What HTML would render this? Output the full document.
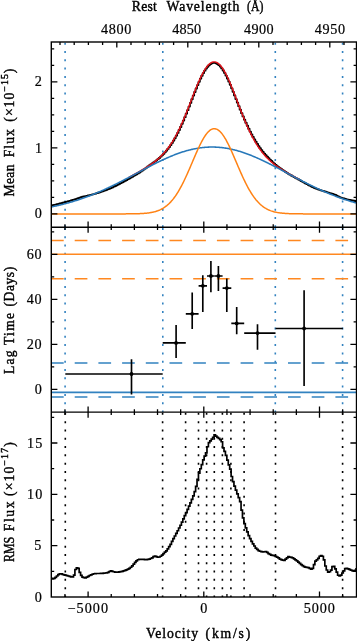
<!DOCTYPE html>
<html><head><meta charset="utf-8"><style>
html,body{margin:0;padding:0;background:#fff;width:357px;height:641px;overflow:hidden}
svg{display:block}
</style></head><body>
<svg width="357" height="641" viewBox="0 0 357 641">
<rect x="0" y="0" width="357" height="641" fill="#fff"/>
<defs><clipPath id="c1"><rect x="51.3" y="42.0" width="305.2" height="185.2"/></clipPath><clipPath id="c2"><rect x="51.3" y="227.2" width="305.2" height="184.95"/></clipPath><clipPath id="c3"><rect x="51.3" y="412.15" width="305.2" height="184.85000000000002"/></clipPath></defs>
<line x1="65.1" y1="42.7" x2="65.1" y2="227.2" stroke="#3282c0" stroke-width="1.6" stroke-dasharray="2 6.3"/>
<line x1="65.1" y1="227.89999999999998" x2="65.1" y2="412.15" stroke="#3282c0" stroke-width="1.6" stroke-dasharray="2 6.3"/>
<line x1="162.8" y1="42.7" x2="162.8" y2="227.2" stroke="#3282c0" stroke-width="1.6" stroke-dasharray="2 6.3"/>
<line x1="162.8" y1="227.89999999999998" x2="162.8" y2="412.15" stroke="#3282c0" stroke-width="1.6" stroke-dasharray="2 6.3"/>
<line x1="275.3" y1="42.7" x2="275.3" y2="227.2" stroke="#3282c0" stroke-width="1.6" stroke-dasharray="2 6.3"/>
<line x1="275.3" y1="227.89999999999998" x2="275.3" y2="412.15" stroke="#3282c0" stroke-width="1.6" stroke-dasharray="2 6.3"/>
<line x1="342.6" y1="42.7" x2="342.6" y2="227.2" stroke="#3282c0" stroke-width="1.6" stroke-dasharray="2 6.3"/>
<line x1="342.6" y1="227.89999999999998" x2="342.6" y2="412.15" stroke="#3282c0" stroke-width="1.6" stroke-dasharray="2 6.3"/>
<line x1="65.3" y1="412.84999999999997" x2="65.3" y2="597.0" stroke="#000" stroke-width="1.6" stroke-dasharray="2 6.3"/>
<line x1="162.6" y1="412.84999999999997" x2="162.6" y2="597.0" stroke="#000" stroke-width="1.6" stroke-dasharray="2 6.3"/>
<line x1="185.6" y1="412.84999999999997" x2="185.6" y2="597.0" stroke="#000" stroke-width="1.6" stroke-dasharray="2 6.3"/>
<line x1="198.5" y1="412.84999999999997" x2="198.5" y2="597.0" stroke="#000" stroke-width="1.6" stroke-dasharray="2 6.3"/>
<line x1="206.6" y1="412.84999999999997" x2="206.6" y2="597.0" stroke="#000" stroke-width="1.6" stroke-dasharray="2 6.3"/>
<line x1="214.3" y1="412.84999999999997" x2="214.3" y2="597.0" stroke="#000" stroke-width="1.6" stroke-dasharray="2 6.3"/>
<line x1="222.4" y1="412.84999999999997" x2="222.4" y2="597.0" stroke="#000" stroke-width="1.6" stroke-dasharray="2 6.3"/>
<line x1="230.9" y1="412.84999999999997" x2="230.9" y2="597.0" stroke="#000" stroke-width="1.6" stroke-dasharray="2 6.3"/>
<line x1="244.1" y1="412.84999999999997" x2="244.1" y2="597.0" stroke="#000" stroke-width="1.6" stroke-dasharray="2 6.3"/>
<line x1="275.5" y1="412.84999999999997" x2="275.5" y2="597.0" stroke="#000" stroke-width="1.6" stroke-dasharray="2 6.3"/>
<line x1="342.6" y1="412.84999999999997" x2="342.6" y2="597.0" stroke="#000" stroke-width="1.6" stroke-dasharray="2 6.3"/>
<g clip-path="url(#c1)" fill="none" stroke-linejoin="round">
<path d="M30.89 208.78H32.31V208.59H33.73V208.39H35.15V208.19H36.57V207.98H37.99V207.77H39.41V207.54H40.83V207.31H42.25V207.08H43.67V206.83H45.09V206.58H46.51V206.32H47.93V206.05H49.35V205.78H50.77V205.48H52.19V205.17H53.61V204.85H55.03V204.53H56.45V204.19H57.87V203.85H59.29V203.50H60.71V203.14H62.13V202.77H63.55V202.39H64.97V202.00H66.39V201.60H67.81V201.20H69.23V200.79H70.65V200.38H72.07V199.96H73.49V199.53H74.91V199.09H76.33V198.63H77.75V198.17H79.17V197.70H80.59V197.22H82.01V196.72H83.43V196.40H84.85V196.11H86.27V195.80H87.69V195.49H89.11V195.17H90.53V194.84H91.95V194.47H93.37V194.06H94.79V193.64H96.21V193.22H97.63V192.77H99.05V192.29H100.47V191.80H101.89V191.30H103.31V190.79H104.73V190.28H106.15V189.75H107.57V189.22H108.99V188.68H110.41V188.12H111.83V187.42H113.25V186.71H114.67V186.00H116.09V185.28H117.51V184.56H118.93V183.82H120.35V183.09H121.77V182.34H123.19V181.59H124.61V180.83H126.03V180.03H127.45V179.22H128.87V178.41H130.29V177.59H131.71V176.76H133.13V175.93H134.55V175.10H135.97V174.25H137.39V173.40H138.81V172.51H140.23V171.55H141.65V170.57H143.07V169.58H144.49V168.57H145.91V167.55H147.33V166.50H148.75V165.43H150.17V164.44H151.59V163.48H153.01V162.49H154.43V161.44H155.85V160.35H157.27V159.20H158.69V157.98H160.11V156.70H161.53V155.34H162.95V153.89H164.37V152.35H165.79V150.70H167.21V148.94H168.63V147.06H170.05V145.06H171.47V142.92H172.89V140.65H174.31V138.23H175.73V135.63H177.15V132.89H178.57V130.00H179.99V126.98H181.41V123.83H182.83V120.56H184.25V117.18H185.67V113.71H187.09V110.16H188.51V106.56H189.93V102.91H191.35V99.25H192.77V95.60H194.19V92.01H195.61V88.48H197.03V85.07H198.45V81.79H199.87V78.68H201.29V75.77H202.71V73.10H204.13V70.68H205.55V68.55H206.97V66.74H208.39V65.25H209.81V64.11H211.23V63.34H212.65V62.94H214.07V62.92H215.49V63.28H216.91V64.02H218.33V65.13H219.75V66.60H221.17V68.40H222.59V70.51H224.01V72.93H225.43V75.58H226.85V78.48H228.27V81.58H229.69V84.86H231.11V88.29H232.53V91.84H233.95V95.47H235.37V99.04H236.79V102.60H238.21V106.16H239.63V109.69H241.05V113.17H242.47V116.47H243.89V119.67H245.31V122.76H246.73V125.77H248.15V128.75H249.57V131.60H250.99V134.31H252.41V136.88H253.83V139.30H255.25V141.69H256.67V143.99H258.09V146.16H259.51V148.19H260.93V150.11H262.35V151.91H263.77V153.59H265.19V155.18H266.61V156.68H268.03V158.15H269.45V159.62H270.87V161.02H272.29V162.35H273.71V163.63H275.13V164.85H276.55V166.04H277.97V167.14H279.39V168.16H280.81V169.16H282.23V170.13H283.65V171.08H285.07V172.01H286.49V172.92H287.91V173.82H289.33V174.70H290.75V175.52H292.17V176.33H293.59V177.12H295.01V177.91H296.43V178.69H297.85V179.47H299.27V180.23H300.69V181.03H302.11V181.83H303.53V182.62H304.95V183.40H306.37V184.17H307.79V184.94H309.21V185.69H310.63V186.45H312.05V187.19H313.47V187.78H314.89V188.33H316.31V188.88H317.73V189.41H319.15V189.94H320.57V190.40H321.99V190.84H323.41V191.27H324.83V191.70H326.25V192.14H327.67V192.60H329.09V193.04H330.51V193.47H331.93V193.89H333.35V194.31H334.77V194.85H336.19V195.64H337.61V196.42H339.03V197.19H340.45V197.68H341.87V198.10H343.29V198.52H344.71V198.92H346.13V199.31H347.55V199.68H348.97V199.97H350.39V200.24H351.81V200.51H353.23V200.77H354.65V201.01H356.07V201.25H357.49V201.61H358.91V201.98H360.33V202.35H361.75V202.71H363.17V203.05H364.59V203.39H366.01V203.72H367.43V204.04H368.85V204.35H370.27V204.65H371.69V204.95H373.11" stroke="#000" stroke-width="1.8"/>
<path d="M128.30 177.66L129.00 177.28L129.70 176.91L130.40 176.53L131.10 176.15L131.80 175.77L132.50 175.39L133.20 175.00L133.90 174.62L134.60 174.23L135.30 173.84L136.00 173.45L136.70 173.06L137.40 172.67L138.10 172.27L138.80 171.87L139.50 171.47L140.20 171.07L140.90 170.66L141.60 170.25L142.30 169.84L143.00 169.43L143.70 169.01L144.40 168.58L145.10 168.16L145.80 167.72L146.50 167.29L147.20 166.84L147.90 166.40L148.60 165.94L149.30 165.48L150.00 165.01L150.70 164.53L151.40 164.05L152.10 163.55L152.80 163.05L153.50 162.54L154.20 162.01L154.90 161.48L155.60 160.93L156.30 160.37L157.00 159.79L157.70 159.20L158.40 158.59L159.10 157.97L159.80 157.33L160.50 156.67L161.20 155.99L161.90 155.30L162.60 154.58L163.30 153.84L164.00 153.07L164.70 152.29L165.40 151.47L166.10 150.63L166.80 149.77L167.50 148.88L168.20 147.95L168.90 147.00L169.60 146.02L170.30 145.01L171.00 143.97L171.70 142.89L172.40 141.78L173.10 140.64L173.80 139.46L174.50 138.25L175.20 137.01L175.90 135.73L176.60 134.42L177.30 133.07L178.00 131.69L178.70 130.27L179.40 128.82L180.10 127.34L180.80 125.82L181.50 124.28L182.20 122.70L182.90 121.10L183.60 119.46L184.30 117.80L185.00 116.12L185.70 114.41L186.40 112.69L187.10 110.94L187.80 109.18L188.50 107.40L189.20 105.61L189.90 103.82L190.60 102.01L191.30 100.21L192.00 98.40L192.70 96.60L193.40 94.81L194.10 93.03L194.80 91.26L195.50 89.51L196.20 87.78L196.90 86.07L197.60 84.40L198.30 82.75L199.00 81.15L199.70 79.58L200.40 78.06L201.10 76.59L201.80 75.17L202.50 73.80L203.20 72.50L203.90 71.25L204.60 70.07L205.30 68.96L206.00 67.92L206.70 66.96L207.40 66.07L208.10 65.26L208.80 64.54L209.50 63.90L210.20 63.34L210.90 62.87L211.60 62.49L212.30 62.20L213.00 62.01L213.70 61.90L214.40 61.89L215.10 61.96L215.80 62.13L216.50 62.39L217.20 62.74L217.90 63.19L218.60 63.72L219.30 64.33L220.00 65.03L220.70 65.82L221.40 66.69L222.10 67.63L222.80 68.65L223.50 69.75L224.20 70.92L224.90 72.15L225.60 73.45L226.30 74.81L227.00 76.23L227.70 77.70L228.40 79.22L229.10 80.79L229.80 82.40L230.50 84.05L231.20 85.74L231.90 87.46L232.60 89.20L233.30 90.97L234.00 92.76L234.70 94.57L235.40 96.39L236.10 98.22L236.80 100.05L237.50 101.89L238.20 103.72L238.90 105.56L239.60 107.38L240.30 109.20L241.00 111.00L241.70 112.79L242.40 114.56L243.10 116.31L243.80 118.04L244.50 119.75L245.20 121.43L245.90 123.08L246.60 124.70L247.30 126.30L248.00 127.86L248.70 129.39L249.40 130.89L250.10 132.36L250.80 133.79L251.50 135.19L252.20 136.55L252.90 137.88L253.60 139.17L254.30 140.43L255.00 141.65L255.70 142.84L256.40 143.99L257.10 145.11L257.80 146.20L258.50 147.26L259.20 148.28L259.90 149.27L260.60 150.23L261.30 151.16L262.00 152.07L262.70 152.94L263.40 153.79L264.10 154.61L264.80 155.41L265.50 156.18L266.20 156.93L266.90 157.66L267.60 158.37L268.30 159.05L269.00 159.72L269.70 160.37L270.40 161.00L271.10 161.61L271.80 162.21L272.50 162.79L273.20 163.36L273.90 163.91L274.60 164.46L275.30 164.99L276.00 165.51L276.70 166.02L277.40 166.52L278.10 167.01L278.80 167.49L279.50 167.96L280.20 168.43L280.90 168.88L281.60 169.34L282.30 169.78L283.00 170.22L283.70 170.66L284.40 171.09L285.10 171.51L285.80 171.93L286.50 172.35L287.20 172.76L287.90 173.17L288.60 173.58L289.30 173.98L290.00 174.38L290.70 174.78L291.40 175.17L292.10 175.56L292.80 175.95L293.50 176.34L294.20 176.72L294.90 177.11L295.60 177.49L296.30 177.87L297.00 178.25L297.70 178.62L298.40 179.00L299.10 179.37L299.80 179.74" stroke="#e4131b" stroke-width="1.45"/>
<path d="M51.30 206.93L52.00 206.79L52.70 206.64L53.40 206.50L54.10 206.35L54.80 206.20L55.50 206.04L56.20 205.89L56.90 205.73L57.60 205.57L58.30 205.41L59.00 205.25L59.70 205.08L60.40 204.91L61.10 204.74L61.80 204.57L62.50 204.40L63.20 204.22L63.90 204.04L64.60 203.86L65.30 203.67L66.00 203.49L66.70 203.30L67.40 203.11L68.10 202.91L68.80 202.72L69.50 202.52L70.20 202.32L70.90 202.12L71.60 201.91L72.30 201.70L73.00 201.49L73.70 201.28L74.40 201.07L75.10 200.85L75.80 200.63L76.50 200.41L77.20 200.18L77.90 199.95L78.60 199.72L79.30 199.49L80.00 199.26L80.70 199.02L81.40 198.78L82.10 198.54L82.80 198.30L83.50 198.05L84.20 197.80L84.90 197.55L85.60 197.29L86.30 197.04L87.00 196.78L87.70 196.51L88.40 196.25L89.10 195.98L89.80 195.71L90.50 195.44L91.20 195.17L91.90 194.89L92.60 194.61L93.30 194.33L94.00 194.05L94.70 193.76L95.40 193.48L96.10 193.18L96.80 192.89L97.50 192.60L98.20 192.30L98.90 192.00L99.60 191.70L100.30 191.39L101.00 191.09L101.70 190.78L102.40 190.47L103.10 190.15L103.80 189.84L104.50 189.52L105.20 189.20L105.90 188.88L106.60 188.56L107.30 188.23L108.00 187.90L108.70 187.57L109.40 187.24L110.10 186.91L110.80 186.57L111.50 186.24L112.20 185.90L112.90 185.56L113.60 185.21L114.30 184.87L115.00 184.52L115.70 184.18L116.40 183.83L117.10 183.48L117.80 183.13L118.50 182.77L119.20 182.42L119.90 182.06L120.60 181.70L121.30 181.35L122.00 180.99L122.70 180.62L123.40 180.26L124.10 179.90L124.80 179.53L125.50 179.17L126.20 178.80L126.90 178.43L127.60 178.07L128.30 177.70L129.00 177.33L129.70 176.96L130.40 176.59L131.10 176.22L131.80 175.84L132.50 175.47L133.20 175.10L133.90 174.72L134.60 174.35L135.30 173.98L136.00 173.60L136.70 173.23L137.40 172.86L138.10 172.48L138.80 172.11L139.50 171.74L140.20 171.36L140.90 170.99L141.60 170.62L142.30 170.24L143.00 169.87L143.70 169.50L144.40 169.13L145.10 168.76L145.80 168.39L146.50 168.02L147.20 167.66L147.90 167.29L148.60 166.93L149.30 166.56L150.00 166.20L150.70 165.84L151.40 165.48L152.10 165.12L152.80 164.76L153.50 164.41L154.20 164.05L154.90 163.70L155.60 163.35L156.30 163.00L157.00 162.66L157.70 162.31L158.40 161.97L159.10 161.63L159.80 161.29L160.50 160.96L161.20 160.62L161.90 160.29L162.60 159.96L163.30 159.64L164.00 159.32L164.70 158.99L165.40 158.68L166.10 158.36L166.80 158.05L167.50 157.74L168.20 157.44L168.90 157.14L169.60 156.84L170.30 156.54L171.00 156.25L171.70 155.96L172.40 155.67L173.10 155.39L173.80 155.12L174.50 154.84L175.20 154.57L175.90 154.30L176.60 154.04L177.30 153.78L178.00 153.53L178.70 153.28L179.40 153.03L180.10 152.79L180.80 152.55L181.50 152.32L182.20 152.09L182.90 151.86L183.60 151.64L184.30 151.43L185.00 151.22L185.70 151.01L186.40 150.81L187.10 150.61L187.80 150.42L188.50 150.23L189.20 150.05L189.90 149.88L190.60 149.70L191.30 149.54L192.00 149.38L192.70 149.22L193.40 149.07L194.10 148.92L194.80 148.78L195.50 148.64L196.20 148.51L196.90 148.39L197.60 148.27L198.30 148.16L199.00 148.05L199.70 147.94L200.40 147.85L201.10 147.75L201.80 147.67L202.50 147.59L203.20 147.51L203.90 147.44L204.60 147.38L205.30 147.32L206.00 147.27L206.70 147.22L207.40 147.18L208.10 147.14L208.80 147.11L209.50 147.09L210.20 147.07L210.90 147.06L211.60 147.05L212.30 147.05L213.00 147.06L213.70 147.07L214.40 147.08L215.10 147.11L215.80 147.13L216.50 147.17L217.20 147.21L217.90 147.25L218.60 147.30L219.30 147.36L220.00 147.42L220.70 147.49L221.40 147.56L222.10 147.64L222.80 147.73L223.50 147.82L224.20 147.91L224.90 148.01L225.60 148.12L226.30 148.23L227.00 148.35L227.70 148.47L228.40 148.60L229.10 148.74L229.80 148.88L230.50 149.02L231.20 149.17L231.90 149.33L232.60 149.49L233.30 149.65L234.00 149.82L234.70 150.00L235.40 150.18L236.10 150.36L236.80 150.55L237.50 150.75L238.20 150.95L238.90 151.15L239.60 151.36L240.30 151.58L241.00 151.79L241.70 152.02L242.40 152.25L243.10 152.48L243.80 152.71L244.50 152.95L245.20 153.20L245.90 153.45L246.60 153.70L247.30 153.96L248.00 154.22L248.70 154.49L249.40 154.76L250.10 155.03L250.80 155.31L251.50 155.59L252.20 155.87L252.90 156.16L253.60 156.45L254.30 156.74L255.00 157.04L255.70 157.34L256.40 157.65L257.10 157.95L257.80 158.26L258.50 158.58L259.20 158.89L259.90 159.21L260.60 159.54L261.30 159.86L262.00 160.19L262.70 160.52L263.40 160.85L264.10 161.19L264.80 161.52L265.50 161.86L266.20 162.20L266.90 162.55L267.60 162.89L268.30 163.24L269.00 163.59L269.70 163.94L270.40 164.30L271.10 164.65L271.80 165.01L272.50 165.37L273.20 165.73L273.90 166.09L274.60 166.45L275.30 166.81L276.00 167.18L276.70 167.54L277.40 167.91L278.10 168.28L278.80 168.65L279.50 169.02L280.20 169.39L280.90 169.76L281.60 170.13L282.30 170.50L283.00 170.87L283.70 171.24L284.40 171.62L285.10 171.99L285.80 172.36L286.50 172.74L287.20 173.11L287.90 173.49L288.60 173.86L289.30 174.23L290.00 174.61L290.70 174.98L291.40 175.35L292.10 175.73L292.80 176.10L293.50 176.47L294.20 176.84L294.90 177.21L295.60 177.58L296.30 177.95L297.00 178.32L297.70 178.69L298.40 179.05L299.10 179.42L299.80 179.78L300.50 180.15L301.20 180.51L301.90 180.87L302.60 181.23L303.30 181.59L304.00 181.95L304.70 182.31L305.40 182.66L306.10 183.02L306.80 183.37L307.50 183.72L308.20 184.07L308.90 184.42L309.60 184.76L310.30 185.11L311.00 185.45L311.70 185.79L312.40 186.13L313.10 186.47L313.80 186.80L314.50 187.14L315.20 187.47L315.90 187.80L316.60 188.13L317.30 188.45L318.00 188.78L318.70 189.10L319.40 189.42L320.10 189.74L320.80 190.05L321.50 190.37L322.20 190.68L322.90 190.99L323.60 191.30L324.30 191.60L325.00 191.90L325.70 192.21L326.40 192.50L327.10 192.80L327.80 193.09L328.50 193.38L329.20 193.67L329.90 193.96L330.60 194.24L331.30 194.53L332.00 194.81L332.70 195.08L333.40 195.36L334.10 195.63L334.80 195.90L335.50 196.17L336.20 196.43L336.90 196.69L337.60 196.95L338.30 197.21L339.00 197.47L339.70 197.72L340.40 197.97L341.10 198.22L341.80 198.46L342.50 198.71L343.20 198.95L343.90 199.18L344.60 199.42L345.30 199.65L346.00 199.88L346.70 200.11L347.40 200.34L348.10 200.56L348.80 200.78L349.50 201.00L350.20 201.21L350.90 201.43L351.60 201.64L352.30 201.85L353.00 202.05L353.70 202.26L354.40 202.46L355.10 202.66L355.80 202.85L356.50 203.05" stroke="#2778b9" stroke-width="1.55"/>
<path d="M51.30 213.90L52.00 213.90L52.70 213.90L53.40 213.90L54.10 213.90L54.80 213.90L55.50 213.90L56.20 213.90L56.90 213.90L57.60 213.90L58.30 213.90L59.00 213.90L59.70 213.90L60.40 213.90L61.10 213.90L61.80 213.90L62.50 213.90L63.20 213.90L63.90 213.90L64.60 213.90L65.30 213.90L66.00 213.90L66.70 213.90L67.40 213.90L68.10 213.90L68.80 213.90L69.50 213.90L70.20 213.90L70.90 213.90L71.60 213.90L72.30 213.90L73.00 213.90L73.70 213.90L74.40 213.90L75.10 213.90L75.80 213.90L76.50 213.90L77.20 213.90L77.90 213.90L78.60 213.90L79.30 213.90L80.00 213.90L80.70 213.90L81.40 213.90L82.10 213.90L82.80 213.90L83.50 213.90L84.20 213.90L84.90 213.90L85.60 213.90L86.30 213.90L87.00 213.90L87.70 213.90L88.40 213.90L89.10 213.90L89.80 213.90L90.50 213.90L91.20 213.90L91.90 213.90L92.60 213.90L93.30 213.90L94.00 213.90L94.70 213.90L95.40 213.90L96.10 213.90L96.80 213.90L97.50 213.90L98.20 213.90L98.90 213.90L99.60 213.90L100.30 213.90L101.00 213.90L101.70 213.90L102.40 213.90L103.10 213.90L103.80 213.90L104.50 213.90L105.20 213.90L105.90 213.90L106.60 213.90L107.30 213.90L108.00 213.90L108.70 213.90L109.40 213.90L110.10 213.90L110.80 213.90L111.50 213.90L112.20 213.90L112.90 213.90L113.60 213.90L114.30 213.90L115.00 213.90L115.70 213.90L116.40 213.90L117.10 213.90L117.80 213.89L118.50 213.89L119.20 213.89L119.90 213.89L120.60 213.89L121.30 213.89L122.00 213.89L122.70 213.89L123.40 213.88L124.10 213.88L124.80 213.88L125.50 213.88L126.20 213.87L126.90 213.87L127.60 213.86L128.30 213.86L129.00 213.85L129.70 213.85L130.40 213.84L131.10 213.83L131.80 213.82L132.50 213.82L133.20 213.80L133.90 213.79L134.60 213.78L135.30 213.76L136.00 213.75L136.70 213.73L137.40 213.71L138.10 213.69L138.80 213.66L139.50 213.64L140.20 213.61L140.90 213.57L141.60 213.54L142.30 213.50L143.00 213.45L143.70 213.41L144.40 213.35L145.10 213.29L145.80 213.23L146.50 213.16L147.20 213.09L147.90 213.00L148.60 212.91L149.30 212.82L150.00 212.71L150.70 212.59L151.40 212.47L152.10 212.33L152.80 212.19L153.50 212.03L154.20 211.86L154.90 211.67L155.60 211.48L156.30 211.26L157.00 211.03L157.70 210.79L158.40 210.52L159.10 210.24L159.80 209.94L160.50 209.62L161.20 209.27L161.90 208.90L162.60 208.51L163.30 208.10L164.00 207.66L164.70 207.19L165.40 206.70L166.10 206.17L166.80 205.62L167.50 205.03L168.20 204.42L168.90 203.77L169.60 203.09L170.30 202.37L171.00 201.62L171.70 200.83L172.40 200.01L173.10 199.15L173.80 198.25L174.50 197.31L175.20 196.34L175.90 195.33L176.60 194.28L177.30 193.19L178.00 192.06L178.70 190.89L179.40 189.69L180.10 188.45L180.80 187.17L181.50 185.86L182.20 184.51L182.90 183.13L183.60 181.72L184.30 180.28L185.00 178.80L185.70 177.30L186.40 175.78L187.10 174.23L187.80 172.65L188.50 171.06L189.20 169.46L189.90 167.84L190.60 166.21L191.30 164.57L192.00 162.93L192.70 161.28L193.40 159.64L194.10 158.01L194.80 156.38L195.50 154.76L196.20 153.16L196.90 151.58L197.60 150.03L198.30 148.50L199.00 147.00L199.70 145.54L200.40 144.12L201.10 142.73L201.80 141.40L202.50 140.11L203.20 138.88L203.90 137.71L204.60 136.59L205.30 135.54L206.00 134.55L206.70 133.64L207.40 132.79L208.10 132.02L208.80 131.32L209.50 130.70L210.20 130.17L210.90 129.71L211.60 129.34L212.30 129.05L213.00 128.85L213.70 128.73L214.40 128.70L215.10 128.76L215.80 128.90L216.50 129.12L217.20 129.44L217.90 129.83L218.60 130.31L219.30 130.87L220.00 131.51L220.70 132.23L221.40 133.02L222.10 133.89L222.80 134.83L223.50 135.83L224.20 136.90L224.90 138.04L225.60 139.23L226.30 140.48L227.00 141.78L227.70 143.13L228.40 144.52L229.10 145.95L229.80 147.43L230.50 148.93L231.20 150.47L231.90 152.03L232.60 153.62L233.30 155.22L234.00 156.84L234.70 158.47L235.40 160.11L236.10 161.75L236.80 163.40L237.50 165.04L238.20 166.68L238.90 168.30L239.60 169.92L240.30 171.52L241.00 173.11L241.70 174.67L242.40 176.21L243.10 177.73L243.80 179.23L244.50 180.69L245.20 182.13L245.90 183.53L246.60 184.90L247.30 186.24L248.00 187.54L248.70 188.81L249.40 190.04L250.10 191.23L250.80 192.39L251.50 193.50L252.20 194.58L252.90 195.62L253.60 196.62L254.30 197.58L255.00 198.51L255.70 199.40L256.40 200.25L257.10 201.06L257.80 201.84L258.50 202.58L259.20 203.28L259.90 203.96L260.60 204.60L261.30 205.20L262.00 205.78L262.70 206.32L263.40 206.84L264.10 207.33L264.80 207.79L265.50 208.22L266.20 208.63L266.90 209.01L267.60 209.37L268.30 209.71L269.00 210.03L269.70 210.32L270.40 210.60L271.10 210.86L271.80 211.10L272.50 211.33L273.20 211.53L273.90 211.73L274.60 211.91L275.30 212.08L276.00 212.23L276.70 212.37L277.40 212.51L278.10 212.63L278.80 212.74L279.50 212.85L280.20 212.94L280.90 213.03L281.60 213.11L282.30 213.18L283.00 213.25L283.70 213.31L284.40 213.37L285.10 213.42L285.80 213.47L286.50 213.51L287.20 213.55L287.90 213.58L288.60 213.62L289.30 213.64L290.00 213.67L290.70 213.70L291.40 213.72L292.10 213.74L292.80 213.75L293.50 213.77L294.20 213.78L294.90 213.80L295.60 213.81L296.30 213.82L297.00 213.83L297.70 213.84L298.40 213.84L299.10 213.85L299.80 213.86L300.50 213.86L301.20 213.87L301.90 213.87L302.60 213.87L303.30 213.88L304.00 213.88L304.70 213.88L305.40 213.88L306.10 213.89L306.80 213.89L307.50 213.89L308.20 213.89L308.90 213.89L309.60 213.89L310.30 213.89L311.00 213.89L311.70 213.90L312.40 213.90L313.10 213.90L313.80 213.90L314.50 213.90L315.20 213.90L315.90 213.90L316.60 213.90L317.30 213.90L318.00 213.90L318.70 213.90L319.40 213.90L320.10 213.90L320.80 213.90L321.50 213.90L322.20 213.90L322.90 213.90L323.60 213.90L324.30 213.90L325.00 213.90L325.70 213.90L326.40 213.90L327.10 213.90L327.80 213.90L328.50 213.90L329.20 213.90L329.90 213.90L330.60 213.90L331.30 213.90L332.00 213.90L332.70 213.90L333.40 213.90L334.10 213.90L334.80 213.90L335.50 213.90L336.20 213.90L336.90 213.90L337.60 213.90L338.30 213.90L339.00 213.90L339.70 213.90L340.40 213.90L341.10 213.90L341.80 213.90L342.50 213.90L343.20 213.90L343.90 213.90L344.60 213.90L345.30 213.90L346.00 213.90L346.70 213.90L347.40 213.90L348.10 213.90L348.80 213.90L349.50 213.90L350.20 213.90L350.90 213.90L351.60 213.90L352.30 213.90L353.00 213.90L353.70 213.90L354.40 213.90L355.10 213.90L355.80 213.90L356.50 213.90" stroke="#ff8214" stroke-width="1.5"/>
</g>
<g clip-path="url(#c2)" fill="none">
<line x1="51.3" y1="254.3" x2="356.5" y2="254.3" stroke="#ff8820" stroke-width="1.5"/>
<line x1="51.0" y1="240.5" x2="356.5" y2="240.5" stroke="#ff8820" stroke-width="1.5" stroke-dasharray="12.7 11"/>
<line x1="51.0" y1="278.8" x2="356.5" y2="278.8" stroke="#ff8820" stroke-width="1.5" stroke-dasharray="12.7 11"/>
<line x1="51.3" y1="392.35" x2="356.5" y2="392.35" stroke="#3282c0" stroke-width="1.55"/>
<line x1="51.0" y1="362.9" x2="356.5" y2="362.9" stroke="#3282c0" stroke-width="1.55" stroke-dasharray="12.7 11"/>
<line x1="51.0" y1="396.9" x2="356.5" y2="396.9" stroke="#3282c0" stroke-width="1.55" stroke-dasharray="12.7 11"/>
<line x1="65.3" y1="374.0" x2="162.7" y2="374.0" stroke="#000" stroke-width="1.65"/>
<line x1="131.5" y1="359.2" x2="131.5" y2="394.6" stroke="#000" stroke-width="1.65"/>
<circle cx="131.5" cy="374.0" r="1.9" fill="#000"/>
<line x1="162.7" y1="342.9" x2="185.8" y2="342.9" stroke="#000" stroke-width="1.65"/>
<line x1="176.1" y1="325.0" x2="176.1" y2="358.0" stroke="#000" stroke-width="1.65"/>
<circle cx="176.1" cy="342.9" r="1.9" fill="#000"/>
<line x1="185.8" y1="313.8" x2="198.6" y2="313.8" stroke="#000" stroke-width="1.65"/>
<line x1="192.2" y1="292.4" x2="192.2" y2="329.0" stroke="#000" stroke-width="1.65"/>
<circle cx="192.2" cy="313.8" r="1.9" fill="#000"/>
<line x1="198.6" y1="285.8" x2="207.0" y2="285.8" stroke="#000" stroke-width="1.65"/>
<line x1="202.8" y1="275.2" x2="202.8" y2="312.1" stroke="#000" stroke-width="1.65"/>
<circle cx="202.8" cy="285.8" r="1.9" fill="#000"/>
<line x1="207.0" y1="276.0" x2="214.6" y2="276.0" stroke="#000" stroke-width="1.65"/>
<line x1="210.9" y1="261.0" x2="210.9" y2="292.3" stroke="#000" stroke-width="1.65"/>
<circle cx="210.9" cy="276.0" r="1.9" fill="#000"/>
<line x1="214.6" y1="276.0" x2="222.6" y2="276.0" stroke="#000" stroke-width="1.65"/>
<line x1="218.4" y1="265.9" x2="218.4" y2="290.9" stroke="#000" stroke-width="1.65"/>
<circle cx="218.4" cy="276.0" r="1.9" fill="#000"/>
<line x1="222.6" y1="288.1" x2="231.3" y2="288.1" stroke="#000" stroke-width="1.65"/>
<line x1="226.8" y1="278.5" x2="226.8" y2="312.1" stroke="#000" stroke-width="1.65"/>
<circle cx="226.8" cy="288.1" r="1.9" fill="#000"/>
<line x1="231.3" y1="323.4" x2="244.2" y2="323.4" stroke="#000" stroke-width="1.65"/>
<line x1="236.7" y1="307.0" x2="236.7" y2="334.2" stroke="#000" stroke-width="1.65"/>
<circle cx="236.7" cy="323.4" r="1.9" fill="#000"/>
<line x1="244.2" y1="333.1" x2="275.5" y2="333.1" stroke="#000" stroke-width="1.65"/>
<line x1="257.5" y1="324.2" x2="257.5" y2="349.7" stroke="#000" stroke-width="1.65"/>
<circle cx="257.5" cy="333.1" r="1.9" fill="#000"/>
<line x1="275.5" y1="328.5" x2="342.9" y2="328.5" stroke="#000" stroke-width="1.65"/>
<line x1="304.1" y1="290.2" x2="304.1" y2="385.9" stroke="#000" stroke-width="1.65"/>
<circle cx="304.1" cy="328.5" r="1.9" fill="#000"/>
</g>
<g clip-path="url(#c3)" fill="none"><path d="M30.89 578.30H32.31V578.30H33.73V578.30H35.15V578.30H36.57V578.30H37.99V578.30H39.41V578.30H40.83V578.30H42.25V578.30H43.67V578.30H45.09V578.30H46.51V578.30H47.93V578.30H49.35V578.30H50.77V578.46H52.19V578.85H53.61V578.34H55.03V577.32H56.45V575.99H57.87V574.71H59.29V573.97H60.71V573.75H62.13V574.43H63.55V574.87H64.97V575.14H66.39V575.55H67.81V576.01H69.23V576.46H70.65V576.80H72.07V576.80H73.49V575.13H74.91V569.48H76.33V567.79H77.75V568.36H79.17V572.41H80.59V575.44H82.01V577.11H83.43V577.58H84.85V577.79H86.27V577.16H87.69V576.42H89.11V575.51H90.53V574.81H91.95V574.23H93.37V573.77H94.79V573.64H96.21V573.52H97.63V573.50H99.05V573.50H100.47V573.43H101.89V573.31H103.31V573.18H104.73V573.02H106.15V572.87H107.57V572.34H108.99V571.51H110.41V570.87H111.83V571.32H113.25V571.76H114.67V572.15H116.09V572.19H117.51V572.03H118.93V571.84H120.35V571.56H121.77V571.29H123.19V570.95H124.61V570.44H126.03V569.92H127.45V569.18H128.87V568.43H130.29V567.27H131.71V565.79H133.13V564.14H134.55V562.45H135.97V560.96H137.39V559.74H138.81V559.46H140.23V559.30H141.65V559.30H143.07V559.32H144.49V559.60H145.91V559.72H147.33V559.47H148.75V559.11H150.17V558.51H151.59V557.84H153.01V556.70H154.43V556.17H155.85V556.63H157.27V557.06H158.69V556.99H160.11V556.25H161.53V555.02H162.95V553.55H164.37V552.17H165.79V550.79H167.21V548.84H168.63V546.67H170.05V544.28H171.47V541.44H172.89V538.60H174.31V535.99H175.73V533.39H177.15V530.74H178.57V528.02H179.99V525.27H181.41V522.06H182.83V518.84H184.25V515.69H185.67V512.56H187.09V509.41H188.51V506.15H189.93V502.90H191.35V499.40H192.77V495.85H194.19V491.61H195.61V486.42H197.03V479.37H198.45V473.08H199.87V468.73H201.29V464.63H202.71V459.88H204.13V456.06H205.55V452.97H206.97V446.77H208.39V442.61H209.81V440.81H211.23V439.09H212.65V437.32H214.07V434.84H215.49V436.20H216.91V437.40H218.33V438.45H219.75V439.68H221.17V441.77H222.59V447.94H224.01V451.39H225.43V455.43H226.85V460.09H228.27V464.82H229.69V469.21H231.11V476.49H232.53V481.63H233.95V486.08H235.37V490.07H236.79V493.84H238.21V497.67H239.63V501.54H241.05V510.16H242.47V517.86H243.89V523.57H245.31V527.78H246.73V531.79H248.15V535.71H249.57V538.59H250.99V541.35H252.41V543.85H253.83V546.02H255.25V548.15H256.67V549.36H258.09V550.57H259.51V551.26H260.93V551.67H262.35V551.96H263.77V551.75H265.19V551.54H266.61V552.40H268.03V553.55H269.45V554.36H270.87V555.06H272.29V555.39H273.71V555.71H275.13V556.32H276.55V557.03H277.97V557.90H279.39V559.03H280.81V559.53H282.23V560.03H283.65V560.45H285.07V559.16H286.49V557.87H287.91V556.61H289.33V557.04H290.75V557.46H292.17V557.89H293.59V558.85H295.01V559.82H296.43V560.79H297.85V562.04H299.27V563.33H300.69V564.62H302.11V565.64H303.53V566.62H304.95V567.11H306.37V567.28H307.79V567.66H309.21V568.39H310.63V569.08H312.05V568.34H313.47V564.67H314.89V561.05H316.31V559.93H317.73V558.32H319.15V556.26H320.57V555.51H321.99V556.23H323.41V559.87H324.83V566.00H326.25V569.98H327.67V572.21H329.09V571.75H330.51V570.06H331.93V566.68H333.35V566.30H334.77V568.78H336.19V572.10H337.61V575.25H339.03V575.90H340.45V575.09H341.87V573.01H343.29V570.83H344.71V568.60H346.13V568.36H347.55V568.85H348.97V569.41H350.39V570.05H351.81V570.67H353.23V571.15H354.65V570.34H356.07V568.92H357.49V568.70H358.91V568.70H360.33V568.70H361.75V568.70H363.17V568.70H364.59V568.70H366.01V568.70H367.43V568.70H368.85V568.70H370.27V568.70H371.69V568.70H373.11" stroke="#000" stroke-width="1.7"/></g>
<g stroke="#000" stroke-width="1.4" fill="none">
<rect x="51.3" y="42.0" width="305.2" height="555.0"/>
<line x1="51.3" y1="227.2" x2="356.5" y2="227.2"/>
<line x1="51.3" y1="412.15" x2="356.5" y2="412.15"/>
</g>
<path d="M60.00 42.00V44.90M74.20 42.00V44.90M88.40 42.00V44.90M102.60 42.00V44.90M116.80 42.00V47.60M131.00 42.00V44.90M145.20 42.00V44.90M159.40 42.00V44.90M173.60 42.00V44.90M187.80 42.00V47.60M202.00 42.00V44.90M216.20 42.00V44.90M230.40 42.00V44.90M244.60 42.00V44.90M258.80 42.00V47.60M273.00 42.00V44.90M287.20 42.00V44.90M301.40 42.00V44.90M315.60 42.00V44.90M329.80 42.00V47.60M344.00 42.00V44.90M64.96 224.30V230.10M64.96 409.25V415.05M64.96 594.10V597.00M88.10 221.60V232.80M88.10 406.55V417.75M88.10 591.40V597.00M111.24 224.30V230.10M111.24 409.25V415.05M111.24 594.10V597.00M134.38 224.30V230.10M134.38 409.25V415.05M134.38 594.10V597.00M157.52 224.30V230.10M157.52 409.25V415.05M157.52 594.10V597.00M180.66 224.30V230.10M180.66 409.25V415.05M180.66 594.10V597.00M203.80 221.60V232.80M203.80 406.55V417.75M203.80 591.40V597.00M226.94 224.30V230.10M226.94 409.25V415.05M226.94 594.10V597.00M250.08 224.30V230.10M250.08 409.25V415.05M250.08 594.10V597.00M273.22 224.30V230.10M273.22 409.25V415.05M273.22 594.10V597.00M296.36 224.30V230.10M296.36 409.25V415.05M296.36 594.10V597.00M319.50 221.60V232.80M319.50 406.55V417.75M319.50 591.40V597.00M342.64 224.30V230.10M342.64 409.25V415.05M342.64 594.10V597.00M51.30 213.90H57.40M350.40 213.90H356.50M51.30 197.40H54.20M353.60 197.40H356.50M51.30 180.90H54.20M353.60 180.90H356.50M51.30 164.40H54.20M353.60 164.40H356.50M51.30 147.90H57.40M350.40 147.90H356.50M51.30 131.40H54.20M353.60 131.40H356.50M51.30 114.90H54.20M353.60 114.90H356.50M51.30 98.40H54.20M353.60 98.40H356.50M51.30 81.90H57.40M350.40 81.90H356.50M51.30 65.40H54.20M353.60 65.40H356.50M51.30 48.90H54.20M353.60 48.90H356.50M51.30 389.40H57.40M350.40 389.40H356.50M51.30 366.88H54.20M353.60 366.88H356.50M51.30 344.37H57.40M350.40 344.37H356.50M51.30 321.85H54.20M353.60 321.85H356.50M51.30 299.33H57.40M350.40 299.33H356.50M51.30 276.81H54.20M353.60 276.81H356.50M51.30 254.30H57.40M350.40 254.30H356.50M51.30 231.78H54.20M353.60 231.78H356.50M51.30 571.33H54.20M353.60 571.33H356.50M51.30 545.66H57.40M350.40 545.66H356.50M51.30 520.00H54.20M353.60 520.00H356.50M51.30 494.33H57.40M350.40 494.33H356.50M51.30 468.66H54.20M353.60 468.66H356.50M51.30 443.00H57.40M350.40 443.00H356.50M51.30 417.33H54.20M353.60 417.33H356.50" stroke="#000" stroke-width="1.3" fill="none"/>
<g style="opacity:0.999">
<text transform="translate(101.06,33.5) scale(1.0,1)" style="font-family:'Liberation Serif',serif;font-weight:normal;stroke:#000;stroke-width:0.22px;font-size:14.2px" textLength="30.24" lengthAdjust="spacing">4800</text>
<text transform="translate(172.20,33.5) scale(1.0,1)" style="font-family:'Liberation Serif',serif;font-weight:normal;stroke:#000;stroke-width:0.22px;font-size:14.2px" textLength="28.88" lengthAdjust="spacing">4850</text>
<text transform="translate(243.92,33.5) scale(1.0,1)" style="font-family:'Liberation Serif',serif;font-weight:normal;stroke:#000;stroke-width:0.22px;font-size:14.2px" textLength="29.66" lengthAdjust="spacing">4900</text>
<text transform="translate(314.70,33.5) scale(1.0,1)" style="font-family:'Liberation Serif',serif;font-weight:normal;stroke:#000;stroke-width:0.22px;font-size:14.2px" textLength="30.46" lengthAdjust="spacing">4950</text>
<text transform="translate(67.40,612.9) scale(1.0,1)" style="font-family:'Liberation Serif',serif;font-weight:normal;stroke:#000;stroke-width:0.22px;font-size:14.2px" textLength="40.76" lengthAdjust="spacing">&#8722;5000</text>
<text transform="translate(200.20,612.9) scale(1.0,1)" style="font-family:'Liberation Serif',serif;font-weight:normal;stroke:#000;stroke-width:0.22px;font-size:14.2px" textLength="8.26" lengthAdjust="spacing">0</text>
<text transform="translate(303.84,612.9) scale(1.0,1)" style="font-family:'Liberation Serif',serif;font-weight:normal;stroke:#000;stroke-width:0.22px;font-size:14.2px" textLength="30.96" lengthAdjust="spacing">5000</text>
<text transform="translate(34.70,218.3) scale(1.0,1)" style="font-family:'Liberation Serif',serif;font-weight:normal;stroke:#000;stroke-width:0.22px;font-size:14.2px" textLength="4.84" lengthAdjust="spacing">0</text>
<text transform="translate(34.90,152.6) scale(1.0,1)" style="font-family:'Liberation Serif',serif;font-weight:normal;stroke:#000;stroke-width:0.22px;font-size:14.2px" textLength="1.74" lengthAdjust="spacing">1</text>
<text transform="translate(34.70,86.0) scale(1.0,1)" style="font-family:'Liberation Serif',serif;font-weight:normal;stroke:#000;stroke-width:0.22px;font-size:14.2px" textLength="11.60" lengthAdjust="spacing">2</text>
<text transform="translate(34.70,393.9) scale(1.0,1)" style="font-family:'Liberation Serif',serif;font-weight:normal;stroke:#000;stroke-width:0.22px;font-size:14.2px" textLength="3.46" lengthAdjust="spacing">0</text>
<text transform="translate(26.70,348.9) scale(1.0,1)" style="font-family:'Liberation Serif',serif;font-weight:normal;stroke:#000;stroke-width:0.22px;font-size:14.2px" textLength="14.88" lengthAdjust="spacing">20</text>
<text transform="translate(26.70,303.9) scale(1.0,1)" style="font-family:'Liberation Serif',serif;font-weight:normal;stroke:#000;stroke-width:0.22px;font-size:14.2px" textLength="14.88" lengthAdjust="spacing">40</text>
<text transform="translate(26.70,258.7) scale(1.0,1)" style="font-family:'Liberation Serif',serif;font-weight:normal;stroke:#000;stroke-width:0.22px;font-size:14.2px" textLength="14.88" lengthAdjust="spacing">60</text>
<text transform="translate(34.70,602.4) scale(1.0,1)" style="font-family:'Liberation Serif',serif;font-weight:normal;stroke:#000;stroke-width:0.22px;font-size:14.2px" textLength="4.84" lengthAdjust="spacing">0</text>
<text transform="translate(34.26,550.4) scale(1.0,1)" style="font-family:'Liberation Serif',serif;font-weight:normal;stroke:#000;stroke-width:0.22px;font-size:14.2px" textLength="6.88" lengthAdjust="spacing">5</text>
<text transform="translate(26.90,499.0) scale(1.0,1)" style="font-family:'Liberation Serif',serif;font-weight:normal;stroke:#000;stroke-width:0.22px;font-size:14.2px" textLength="15.40" lengthAdjust="spacing">10</text>
<text transform="translate(26.90,447.6) scale(1.0,1)" style="font-family:'Liberation Serif',serif;font-weight:normal;stroke:#000;stroke-width:0.22px;font-size:14.2px" textLength="15.40" lengthAdjust="spacing">15</text>
<text transform="translate(131.80,11.0) scale(1.0,1)" style="font-family:'Liberation Serif',serif;font-weight:normal;stroke:#000;stroke-width:0.42px;font-size:13.7px" textLength="25.00" lengthAdjust="spacing">Rest</text>
<text transform="translate(166.50,11.0) scale(1.0,1)" style="font-family:'Liberation Serif',serif;font-weight:normal;stroke:#000;stroke-width:0.42px;font-size:13.7px" textLength="72.90" lengthAdjust="spacing">Wavelength</text>
<text transform="translate(247.00,11.0) scale(0.86,1)" style="font-family:'Liberation Serif',serif;font-weight:normal;stroke:#000;stroke-width:0.42px;font-size:13.7px" textLength="19.07" lengthAdjust="spacing">(&#197;)</text>
<text transform="translate(146.06,637.8) scale(1.0,1)" style="font-family:'Liberation Serif',serif;font-weight:normal;stroke:#000;stroke-width:0.42px;font-size:13.7px" textLength="52.02" lengthAdjust="spacing">Velocity</text>
<text transform="translate(205.56,637.8) scale(1.0,1)" style="font-family:'Liberation Serif',serif;font-weight:normal;stroke:#000;stroke-width:0.42px;font-size:13.7px" textLength="44.66" lengthAdjust="spacing">(km/s)</text>
<text transform="translate(13.8,196.52) rotate(-90) scale(1.0,1)" style="font-family:'Liberation Serif',serif;font-weight:normal;stroke:#000;stroke-width:0.42px;font-size:13.7px" textLength="32.10" lengthAdjust="spacing">Mean</text>
<text transform="translate(13.8,157.30) rotate(-90) scale(1.0,1)" style="font-family:'Liberation Serif',serif;font-weight:normal;stroke:#000;stroke-width:0.42px;font-size:13.7px" textLength="28.24" lengthAdjust="spacing">Flux</text>
<text transform="translate(13.8,121.66) rotate(-90) scale(1.0,1)" style="font-family:'Liberation Serif',serif;font-weight:normal;stroke:#000;stroke-width:0.42px;font-size:13.7px" textLength="53.10" lengthAdjust="spacing">(&#215;10<tspan dy="-6" font-size="10px">&#8722;15</tspan><tspan dy="6">)</tspan></text>
<text transform="translate(13.8,373.94) rotate(-90) scale(1.0,1)" style="font-family:'Liberation Serif',serif;font-weight:normal;stroke:#000;stroke-width:0.42px;font-size:13.7px" textLength="23.52" lengthAdjust="spacing">Lag</text>
<text transform="translate(13.8,345.00) rotate(-90) scale(1.0,1)" style="font-family:'Liberation Serif',serif;font-weight:normal;stroke:#000;stroke-width:0.42px;font-size:13.7px" textLength="32.16" lengthAdjust="spacing">Time</text>
<text transform="translate(13.8,306.52) rotate(-90) scale(1.0,1)" style="font-family:'Liberation Serif',serif;font-weight:normal;stroke:#000;stroke-width:0.42px;font-size:13.7px" textLength="39.74" lengthAdjust="spacing">(Days)</text>
<text transform="translate(13.8,561.94) rotate(-90) scale(0.88,1)" style="font-family:'Liberation Serif',serif;font-weight:normal;stroke:#000;stroke-width:0.42px;font-size:13.7px" textLength="28.68" lengthAdjust="spacing">RMS</text>
<text transform="translate(13.8,531.30) rotate(-90) scale(1.0,1)" style="font-family:'Liberation Serif',serif;font-weight:normal;stroke:#000;stroke-width:0.42px;font-size:13.7px" textLength="29.82" lengthAdjust="spacing">Flux</text>
<text transform="translate(13.8,495.88) rotate(-90) scale(1.0,1)" style="font-family:'Liberation Serif',serif;font-weight:normal;stroke:#000;stroke-width:0.42px;font-size:13.7px" textLength="53.60" lengthAdjust="spacing">(&#215;10<tspan dy="-6" font-size="10px">&#8722;17</tspan><tspan dy="6">)</tspan></text>
</g>
</svg>
</body></html>
